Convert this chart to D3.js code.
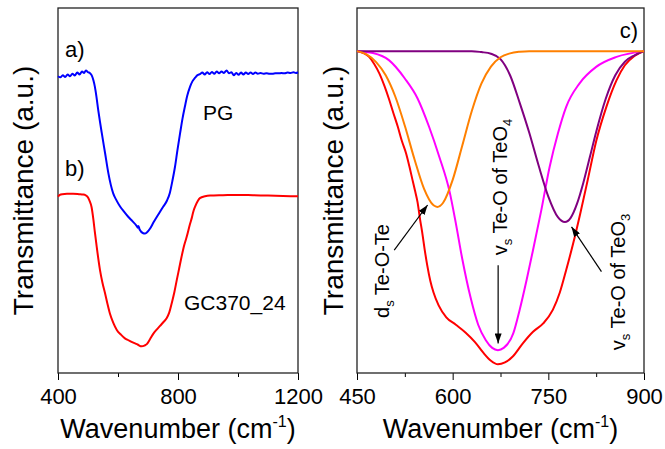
<!DOCTYPE html>
<html><head><meta charset="utf-8">
<script src="https://cdn.jsdelivr.net/npm/d3@7"></script>
<style>
html,body{margin:0;padding:0;background:#fff;}
svg{display:block;font-family:"Liberation Sans",Arial,Helvetica,sans-serif;}
</style></head>
<body>
<svg id="chart" width="665" height="449"></svg>
<script>
// ---------- Panel a/b data (left) ----------
const leftXTicks = [400, 800, 1200];
const leftXMinor = [600, 1000];
const pgWn = [400,408,416,424,432,440,448,456,464,472,480,487,493,500,506,512,518,523,528,534,540,546,557,568,584,595,607,620,634,648,662,666,668,672,684,690,696,707,718,735,751,763,773,781,790,798,807,815,823,831,840,848,857,865,873,881,889,897,905,913,921,929,937,945,953,962,970,978,986,994,1002,1010,1018,1026,1034,1042,1050,1058,1066,1075,1085,1095,1105,1115,1125,1135,1145,1155,1165,1175,1185,1193,1200];
const pgT  = [81.3,81.0,81.6,81.1,81.8,81.3,82.0,81.5,82.3,81.8,82.6,82.2,82.9,82.4,82.2,81.6,80.2,78.4,75.8,72.1,68.8,65.7,60.2,54.7,49.2,47.3,45.6,44.2,42.8,41.6,40.3,39.8,40.3,39.3,38.3,38.2,38.5,39.6,41.2,43.5,45.6,47.2,49.4,52.5,56.5,61.0,65.7,69.7,73.0,76.0,78.4,79.9,80.9,81.6,81.9,82.3,81.8,82.4,81.9,82.5,82.0,82.6,82.1,82.6,82.2,82.9,82.1,82.4,81.6,82.2,81.7,82.3,81.8,82.3,81.9,82.3,81.9,82.3,82.0,82.2,82.0,82.1,82.0,82.0,82.1,82.1,82.2,82.1,82.3,82.2,82.4,82.2,82.4];
const gcWn = [400,406,414,430,450,470,484,492,498,505,512,518,523,529,540,548,557,565,573,584,596,610,623,637,651,665,679,688,696,707,718,729,740,751,762,771,779,788,796,804,812,820,829,840,846,851,857,865,873,890,907,950,1000,1050,1100,1150,1200];
const gcT  = [48.3,48.8,49.0,49.1,49.1,49.0,48.9,48.7,48.3,47.2,45.4,42.0,38.5,34.6,28.2,24.8,21.8,18.9,16.3,13.8,11.8,10.5,9.5,8.9,8.3,7.8,7.3,7.5,7.9,9.3,10.8,11.9,12.9,13.9,15.0,16.6,19.1,22.2,25.5,28.7,31.9,34.8,37.3,40.8,42.5,44.2,45.6,47.0,47.9,48.4,48.6,48.7,48.8,48.7,48.6,48.5,48.4];

// ---------- Panel c data (right) ----------
const rightXTicks = [450, 600, 750, 900];
const rightXMinor = [525, 675, 825];
const sumWn = [450,460,469,477,485,493,500,507,514,520,527,532,537,541,545,549,552,556,560,565,570,578,590,605,620,635,648,660,671,682,695,710,726,742,757,768,778,789,800,812,825,841,857,870,885,900];
const sumT  = [100,99.4,98.2,96.0,93.1,89.2,85.2,80.8,76.5,72.3,68.2,64.3,60.0,56.6,53.0,47.6,44.0,38.5,33.6,28.6,25.0,21.0,17.3,15.0,12.6,9.6,6.3,3.8,2.7,3.3,5.3,9.2,12.8,15.4,19.6,25.0,32.0,40.3,49.5,60.2,72.0,82.7,91.0,95.6,98.5,100];
const magWn = [450,475,500,525,545,563,579,595,605,615,628,640,652,662,671,680,695,705,716,726,739,752,765,778,799,825,857,900];
const magT  = [100,99.4,97.2,91.5,85.3,76.5,67.2,56.5,46.5,35.5,23.5,15.0,10.2,7.8,7.1,7.8,12.3,19.6,29.0,38.2,50.6,64.0,74.4,82.7,90.0,95.1,98.2,100];
const oraWn = [450,465,480,495,510,525,540,555,570,576,585,600,615,630,645,660,675,690,705,720,900];
const oraT  = [100,99.0,96.6,92.5,85.9,76.8,66.5,57.3,52.1,51.6,52.9,60.0,70.6,81.4,89.9,95.2,98.1,99.3,99.8,100,100];
const purWn = [450,630,645,660,675,690,705,720,735,750,765,776,785,795,805,815,825,840,855,870,885,900];
const purT  = [100,100,99.7,99.2,97.5,92.5,84.0,74.7,64.3,54.8,48.4,46.9,48.2,52.6,59.2,67.0,74.9,85.2,92.5,96.7,98.7,100];

// ---------- Text ----------
const yTitle = "Transmittance (a.u.)";
const xTitleMain = "Wavenumber (cm";
const xTitleSup = "-1";

const FONT = '"Liberation Sans",Arial,Helvetica,sans-serif';
const svg = d3.select("#chart");

const defs = svg.append("defs");
defs.append("marker").attr("id","ah").attr("viewBox","0 -3.5 10 7")
  .attr("refX",10).attr("refY",0).attr("markerWidth",10).attr("markerHeight",7)
  .attr("markerUnits","userSpaceOnUse").attr("orient","auto")
  .append("path").attr("d","M0,-3.5L10,0L0,3.5Z").attr("fill","#000");

const plotTop = 8, plotBottom = 373;

function panel(x0, x1, xDomain, yDomain, majors, minors) {
  const x = d3.scaleLinear().domain(xDomain).range([x0, x1]);
  const y = d3.scaleLinear().domain(yDomain).range([plotBottom, plotTop]);
  const g = svg.append("g");
  // minor ticks
  g.append("g").attr("transform",`translate(0,${plotBottom})`)
    .call(d3.axisBottom(x).tickValues(minors).tickSize(4).tickFormat(""))
    .call(s => { s.select(".domain").remove(); s.selectAll("line").attr("stroke","#000").attr("stroke-width",1); });
  // major ticks
  g.append("g").attr("transform",`translate(0,${plotBottom})`)
    .call(d3.axisBottom(x).tickValues(majors).tickSize(7).tickPadding(8).tickFormat(d3.format("d")))
    .call(s => {
      s.select(".domain").remove();
      s.selectAll("line").attr("stroke","#000").attr("stroke-width",1);
      s.selectAll("text").attr("font-size",22).attr("font-family",FONT).attr("fill","#000");
    });
  // frame
  g.append("rect").attr("x",x0).attr("y",plotTop).attr("width",x1-x0).attr("height",plotBottom-plotTop)
    .attr("fill","none").attr("stroke","#222").attr("stroke-width",1.3);
  return {x, y, g};
}

function curve(p, wn, t, color, w) {
  const pts = wn.map((d,i) => [d, t[i]]);
  p.g.append("path").datum(pts)
    .attr("d", d3.line().x(d => p.x(d[0])).y(d => p.y(d[1])).curve(d3.curveMonotoneX))
    .attr("fill","none").attr("stroke",color).attr("stroke-width",w).attr("stroke-linejoin","round");
}

function xTitle(cx) {
  const t = svg.append("text").attr("x",cx).attr("y",438).attr("text-anchor","middle")
    .attr("font-size",27).attr("font-family",FONT).attr("fill","#000");
  t.append("tspan").text(xTitleMain);
  t.append("tspan").attr("font-size",16).attr("dy",-11).text(xTitleSup);
  t.append("tspan").attr("dy",11).text(")");
}
function yTitleAt(bx) {
  svg.append("text").attr("transform",`translate(${bx},190.5) rotate(-90)`)
    .attr("text-anchor","middle").attr("font-size",28).attr("font-family",FONT).attr("fill","#000")
    .text(yTitle);
}

// ---------- Left panel ----------
const L = panel(58, 298, [400,1200], [0,100], leftXTicks, leftXMinor);
curve(L, gcWn, gcT, "#ff0000", 2);
curve(L, pgWn, pgT, "#0000ff", 2);
function lab(p, wn, t, str, size) {
  p.g.append("text").attr("x",p.x(wn)).attr("y",p.y(t)).attr("font-size",size)
    .attr("font-family",FONT).attr("fill","#000").text(str);
}
lab(L, 423, 86.6, "a)", 22);
lab(L, 423, 54.0, "b)", 22);
lab(L, 883, 69.3, "PG", 21);
lab(L, 820, 17.3, "GC370_24", 21);

// ---------- Right panel ----------
const R = panel(357, 644, [450,900], [0,113.4], rightXTicks, rightXMinor);
curve(R, sumWn, sumT, "#ff0000", 2);
curve(R, magWn, magT, "#ff00ff", 2);
curve(R, purWn, purT, "#800080", 2);
curve(R, oraWn, oraT, "#ff8000", 2);
lab(R, 862, 104, "c)", 22);

function arrow(p, w1, t1, w2, t2) {
  p.g.append("line").attr("x1",p.x(w1)).attr("y1",p.y(t1)).attr("x2",p.x(w2)).attr("y2",p.y(t2))
    .attr("stroke","#000").attr("stroke-width",1.2).attr("marker-end","url(#ah)");
}
arrow(R, 508.4, 38.2, 560.7, 52.2);
arrow(R, 671.3, 33.5, 671.3, 9.2);
arrow(R, 833.3, 31.5, 786.3, 45.4);

function vlabel(p, wn, t, parts) {
  const txt = p.g.append("text").attr("transform",`translate(${p.x(wn)},${p.y(t)}) rotate(-90)`)
    .attr("font-size",20).attr("font-family",FONT).attr("fill","#000");
  parts.forEach(([s, sub]) => {
    const ts = txt.append("tspan").text(s);
    if (sub) ts.attr("font-size",13).attr("dy",5); else ts.attr("dy",0);
  });
  // reset baselines after subscripts
  let prevSub = false;
  txt.selectAll("tspan").each(function(d,i){
    const isSub = parts[i][1];
    const el = d3.select(this);
    if (isSub && !prevSub) el.attr("dy",5);
    else if (!isSub && prevSub) el.attr("dy",-5);
    else el.attr("dy",0);
    prevSub = isSub;
  });
}
vlabel(R, 500.6, 17.1, [["d",false],["s",true],[" Te-O-Te",false]]);
vlabel(R, 684.9, 36.6, [["v",false],["s",true],[" Te-O of TeO",false],["4",true]]);
vlabel(R, 869.8, 7.1, [["v",false],["s",true],[" Te-O of TeO",false],["3",true]]);

// ---------- Titles ----------
xTitle(178);
xTitle(500.5);
yTitleAt(33);
yTitleAt(343);
</script>
</body></html>
